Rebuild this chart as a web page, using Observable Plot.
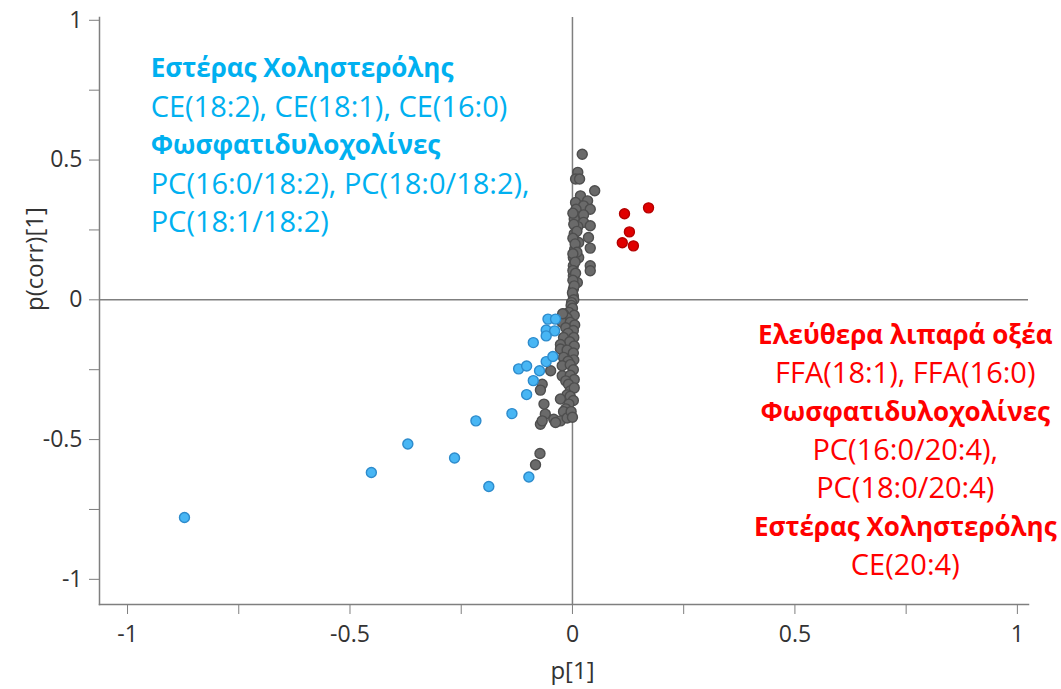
<!DOCTYPE html>
<html><head><meta charset="utf-8">
<script src="https://cdn.jsdelivr.net/npm/d3@7"></script>
<script src="https://cdn.jsdelivr.net/npm/@observablehq/plot@0.6"></script>
<style>body{margin:0;background:#fff} svg{overflow:visible}</style>
</head><body><div id="chart"></div>
<script>
// Grey: lipids not significantly changed [p[1], p(corr)[1]]
const grayPoints = [
  [0.022,0.521],[0.012,0.456],[0.007,0.432],[0.016,0.432],[0.050,0.390],[0.018,0.372],[0.034,0.354],
  [0.007,0.348],[0.025,0.336],[0.008,0.324],[0.040,0.324],[0.007,0.300],[0.025,0.304],[0.004,0.289],
  [0.025,0.277],[0.040,0.265],[0.012,0.262],[0.004,0.236],[0.036,0.223],[0.014,0.205],[0.040,0.185],
  [0.005,0.181],[0.002,0.151],[0.014,0.151],[0.040,0.122],[0.040,0.104],[0.002,0.122],[0.002,0.086],
  [0.011,0.062],[0.002,0.038],[0.002,0.014],
  [0.001,0.310],[0.003,0.270],[0.010,0.245],[0.001,0.220],[0.006,0.200],[0.010,0.170],[0.001,0.165],
  [0.006,0.135],[0.001,0.105],[0.007,0.095],[0.001,0.070],[0.004,0.050],[0.000,0.025],[0.003,0.000],
  [-0.002,-0.010],[-0.003,-0.020],[0.000,-0.030],[-0.008,-0.045],[-0.020,-0.051],[0.004,-0.055],
  [-0.012,-0.065],[-0.023,-0.081],[-0.005,-0.080],[0.005,-0.090],[-0.015,-0.100],[0.002,-0.110],
  [-0.010,-0.120],[-0.020,-0.135],[0.003,-0.135],[-0.006,-0.150],[-0.027,-0.160],[0.004,-0.165],
  [-0.027,-0.176],[-0.012,-0.180],[0.002,-0.190],[-0.020,-0.206],[0.003,-0.215],[-0.010,-0.220],
  [-0.023,-0.236],[-0.005,-0.232],[0.002,-0.250],[-0.049,-0.254],[-0.023,-0.272],[-0.005,-0.270],
  [0.004,-0.285],[-0.015,-0.290],[-0.068,-0.302],[-0.009,-0.302],[-0.072,-0.323],[-0.005,-0.326],
  [0.004,-0.315],[-0.012,-0.340],[-0.027,-0.355],[-0.005,-0.345],[0.002,-0.360],[-0.064,-0.373],
  [-0.008,-0.373],[-0.015,-0.390],[-0.061,-0.409],[-0.020,-0.400],[-0.042,-0.427],[-0.027,-0.433],
  [-0.012,-0.423],[-0.072,-0.445],[-0.068,-0.433],[-0.038,-0.439],[-0.073,-0.550],[-0.083,-0.590],
  [-0.022,-0.050],[-0.003,-0.400],[0.000,-0.420]
];
// Blue: decreased (CE, PC)
const bluePoints = [
  [-0.872,-0.779],[-0.452,-0.618],[-0.370,-0.516],[-0.265,-0.566],[-0.217,-0.433],[-0.188,-0.668],
  [-0.136,-0.407],[-0.098,-0.634],[-0.103,-0.339],[-0.088,-0.289],[-0.121,-0.247],[-0.103,-0.237],
  [-0.074,-0.254],[-0.059,-0.221],[-0.044,-0.203],[-0.055,-0.069],[-0.038,-0.069],[-0.059,-0.108],
  [-0.040,-0.111],[-0.059,-0.129],[-0.088,-0.153]
];
// Red: increased (FFA, PC, CE)
const redPoints = [
  [0.117,0.308],[0.171,0.329],[0.128,0.243],[0.112,0.204],[0.137,0.193]
];
const xMajorTicks = [-1, -0.5, 0, 0.5, 1];
const xMinorTicks = [-0.75, -0.25, 0.25, 0.75];
const yMajorTicks = [-1, -0.5, 0, 0.5, 1];
const yMinorTicks = [-0.75, -0.25, 0.25, 0.75];
const blueLabels = ["Εστέρας Χοληστερόλης", "CE(18:2), CE(18:1), CE(16:0)", "Φωσφατιδυλοχολίνες", "PC(16:0/18:2), PC(18:0/18:2),", "PC(18:1/18:2)"];
const blueBold = [true, false, true, false, false];
const redLabels = ["Ελεύθερα λιπαρά οξέα", "FFA(18:1), FFA(16:0)", "Φωσφατιδυλοχολίνες", "PC(16:0/20:4),", "PC(18:0/20:4)", "Εστέρας Χοληστερόλης", "CE(20:4)"];
const redBold = [true, false, true, false, false, true, false];

const blueRows = blueLabels.map((t, i) => ({t, b: blueBold[i], i}));
const redRows = redLabels.map((t, i) => ({t, b: redBold[i], i}));
const FONT = "Open Sans";
const axisGray = "#7f7f7f";
const labelColor = "#333";
const blueY = d => 0.826 - d.i * 0.1375;
const redY = d => -0.129 - d.i * 0.137;

const chart = Plot.plot({
  width: 1061, height: 689,
  marginLeft: 99, marginRight: 33, marginTop: 17, marginBottom: 85,
  style: {fontFamily: FONT, background: "#fff"},
  x: {domain: [-1.063, 1.025]},
  y: {domain: [-1.09, 1.01]},
  marks: [
    Plot.ruleY([0], {stroke: axisGray, strokeWidth: 1.5}),
    Plot.ruleX([0], {stroke: axisGray, strokeWidth: 1.5}),
    Plot.frame({anchor: "left", stroke: axisGray, strokeWidth: 1.5}),
    Plot.frame({anchor: "bottom", stroke: axisGray, strokeWidth: 1.5}),
    Plot.axisX({ticks: xMajorTicks.concat(xMinorTicks), tickSize: 10, stroke: axisGray, tickFormat: () => "", label: null}),
    Plot.axisY({ticks: yMajorTicks.concat(yMinorTicks), tickSize: 10, stroke: axisGray, tickFormat: () => "", label: null}),
    Plot.text(xMajorTicks, {x: d => d, frameAnchor: "bottom", dy: 37, text: d => String(d), fontSize: 23, fill: labelColor}),
    Plot.text(yMajorTicks, {y: d => d, frameAnchor: "left", dx: -17, text: d => String(d), textAnchor: "end", fontSize: 23, fill: labelColor}),
    Plot.text(["p[1]"], {x: 0, frameAnchor: "bottom", dy: 74, fontSize: 24, fill: labelColor}),
    Plot.text(["p(corr)[1]"], {frameAnchor: "left", dx: -64, rotate: -90, fontSize: 24, fill: labelColor}),
    Plot.dot(grayPoints, {x: d => d[0], y: d => d[1], r: 5, fill: "#6a6a6a", stroke: "#4e4e4e", strokeWidth: 1.4}),
    Plot.dot(bluePoints, {x: d => d[0], y: d => d[1], r: 5, fill: "#48b6f4", stroke: "#2d8bcc", strokeWidth: 1.4}),
    Plot.dot(redPoints, {x: d => d[0], y: d => d[1], r: 5, fill: "#e00000", stroke: "#b40000", strokeWidth: 1.4}),
    Plot.text(blueRows.filter(d => d.b), {x: -0.948, y: blueY, text: d => d.t, textAnchor: "start", fill: "#00b0f0", fontWeight: "bold", fontSize: 26}),
    Plot.text(blueRows.filter(d => !d.b), {x: -0.948, y: blueY, text: d => d.t, textAnchor: "start", fill: "#00b0f0", fontSize: 29}),
    Plot.text(redRows.filter(d => d.b), {x: 0.748, y: redY, text: d => d.t, textAnchor: "middle", fill: "#ff0000", fontWeight: "bold", fontSize: 26}),
    Plot.text(redRows.filter(d => !d.b), {x: 0.748, y: redY, text: d => d.t, textAnchor: "middle", fill: "#ff0000", fontSize: 29})
  ]
});
document.getElementById("chart").appendChild(chart);
</script>
</body></html>
